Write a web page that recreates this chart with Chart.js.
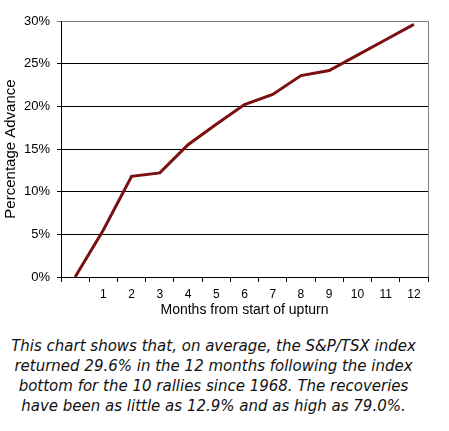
<!DOCTYPE html>
<html>
<head>
<meta charset="utf-8">
<script src="https://cdn.jsdelivr.net/npm/chart.js@4"></script>
<style>
  body { margin: 0; background: #fff; }
  #wrap { position: relative; width: 449px; height: 320px; }
  #caption {
    width: 427px;
    margin-top: 16px;
    text-align: center;
    font-family: "DejaVu Sans", sans-serif;
    font-style: italic;
    font-size: 15px;
    line-height: 20px;
    color: #111;
  }
</style>
</head>
<body>
<div id="wrap"><canvas id="upturnChart"></canvas></div>
<div id="caption">This chart shows that, on average, the S&amp;P/TSX index<br>returned 29.6% in the 12 months following the index<br>bottom for the 10 rallies since 1968. The recoveries<br>have been as little as 12.9% and as high as 79.0%.</div>
<script>
const months = ['', '1', '2', '3', '4', '5', '6', '7', '8', '9', '10', '11', '12'];
const advance = [0, 5.5, 11.8, 12.2, 15.5, 17.9, 20.2, 21.4, 23.6, 24.2, 26.0, 27.8, 29.6];

const upturnChart = document.getElementById('upturnChart');

// gray line on the right edge of the plot
const rightBorder = {
  id: 'rightBorder',
  afterDatasetsDraw(chart) {
    const { ctx, chartArea } = chart;
    ctx.save();
    ctx.strokeStyle = '#808080';
    ctx.lineWidth = 1;
    ctx.beginPath();
    ctx.moveTo(chartArea.right + 0.5, chartArea.top);
    ctx.lineTo(chartArea.right + 0.5, chartArea.bottom);
    ctx.stroke();
    ctx.restore();
  }
};

new Chart(upturnChart, {
  type: 'line',
  data: {
    labels: months,
    datasets: [
      {
        label: 'Percentage Advance',
        data: advance,
        borderColor: '#7a1010',
        borderWidth: 3,
        pointRadius: 0,
        tension: 0,
      }
    ]
  },
  options: {
    responsive: true,
    maintainAspectRatio: false,
    animation: false,
    layout: {
      padding: { top: 21, right: 21, left: 0, bottom: 0 }
    },
    plugins: {
      legend: { display: false },
      tooltip: { enabled: false }
    },
    scales: {
      x: {
        offset: true,
        afterFit: s => { s.height = 43 },
        grid: {
          offset: true,
          drawOnChartArea: false,
          drawTicks: true,
          tickLength: 5,
          color: '#000'
        },
        border: { color: '#000', width: 1 },
        ticks: {
          color: '#000',
          font: { family: 'Liberation Sans, Arial', size: 12 },
          padding: 5,
          maxRotation: 0,
          autoSkip: false
        },
        title: {
          display: true,
          text: 'Months from start of upturn',
          color: '#000',
          font: { family: 'Liberation Sans, Arial', size: 14 },
          padding: { top: 0, bottom: 1 }
        }
      },
      y: {
        min: 0,
        max: 30,
        afterFit: s => { s.width = 61 },
        grid: {
          color: ctx => ctx.tick && ctx.tick.value === 30 ? '#808080' : '#000',
          tickLength: 4,
          lineWidth: 1
        },
        border: { color: '#000', width: 1 },
        ticks: {
          stepSize: 5,
          color: '#000',
          padding: 7,
          font: { family: 'Liberation Sans, Arial', size: 13 },
          callback: v => v + '%'
        },
        title: {
          display: true,
          text: 'Percentage Advance',
          color: '#000',
          font: { family: 'Liberation Sans, Arial', size: 15 },
          padding: { top: 2, bottom: 0 }
        }
      }
    }
  },
  plugins: [rightBorder]
});
</script>
</body>
</html>
